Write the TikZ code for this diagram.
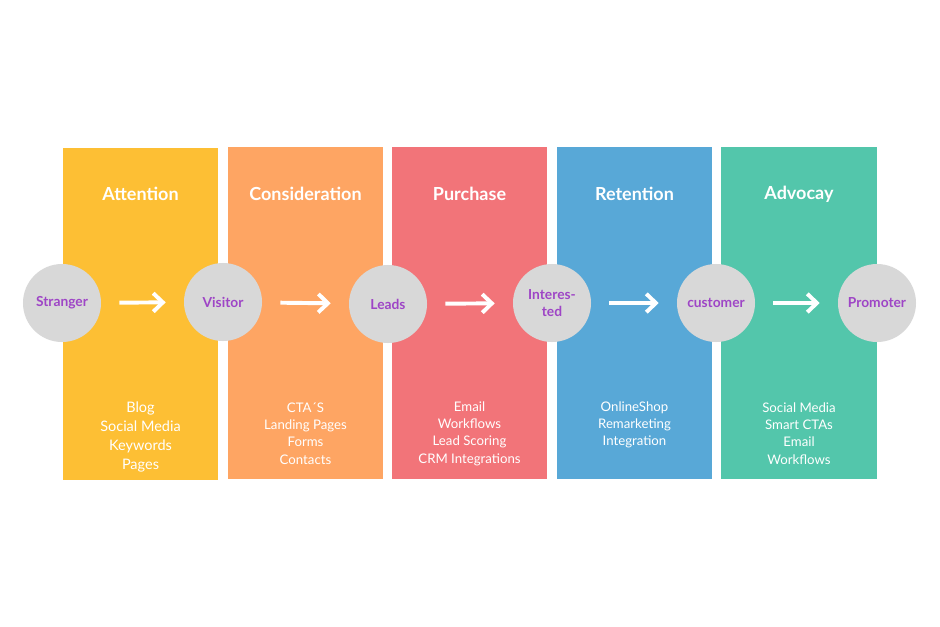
\documentclass[tikz,border=0pt]{standalone}
\usepackage{fontspec}
\setmainfont{Lato}
\usetikzlibrary{arrows.meta}
\definecolor{attcol}{HTML}{FDBF34}
\definecolor{concol}{HTML}{FEA563}
\definecolor{purcol}{HTML}{F27479}
\definecolor{retcol}{HTML}{58A8D7}
\definecolor{advcol}{HTML}{53C6AB}
\definecolor{dotcol}{HTML}{D8D8D8}
\definecolor{txtcol}{HTML}{9E45C6}
\tikzset{
  stage/.style={rectangle,minimum width=3.875cm,minimum height=8.3cm,inner sep=0pt},
  title/.style={text=white,font=\fontsize{12.8}{14}\selectfont\bfseries},
  items/.style={text=white,align=center,font=\fontsize{9.4}{12.3}\selectfont},
  person/.style={circle,fill=dotcol,minimum size=1.95cm,inner sep=0pt,align=center,
    text=txtcol,font=\fontsize{9.8}{11.5}\selectfont\bfseries},
  go/.style={draw=white,line width=2.8pt,-{Straight Barb[length=2.4mm,width=4.6mm]},
    shorten <=0.45cm,shorten >=0.45cm}
}
\begin{document}
\begin{tikzpicture}[x=0.025cm,y=-0.025cm]
\useasboundingbox[fill=white] (0,0) rectangle (940,626);
\node[stage,fill=attcol] (att) at (140.5,314) {};
\node[stage,fill=concol] (con) at (305.5,313) {};
\node[stage,fill=purcol] (pur) at (469.5,313) {};
\node[stage,fill=retcol] (ret) at (634.5,313) {};
\node[stage,fill=advcol] (adv) at (799,313) {};
\node[title] (atttitle) at (140.5,194) {Attention};
\node[title] (contitle) at (305.5,194) {Consideration};
\node[title] (purtitle) at (469.5,194) {Purchase};
\node[title] (rettitle) at (634.5,194) {Retention};
\node[title] (advtitle) at (799,194) {Advocay};
\node[items,font=\fontsize{10.3}{13.5}\selectfont] (attitems) at (140.5,437) {Blog\\Social Media\\Keywords\\Pages};
\node[items] (conitems) at (305.5,433.5) {CTA´S\\Landing Pages\\Forms\\Contacts};
\node[items] (puritems) at (469.5,433.5) {Email\\Workflows\\Lead Scoring\\CRM Integrations};
\node[items] (retitems) at (634.5,425) {OnlineShop\\Remarketing\\Integration};
\node[items] (advitems) at (799,433.5) {Social Media\\Smart CTAs\\Email\\Workflows};
\node[person] (stranger) at (62,303) {Stranger};
\node[person] (visitor) at (223,302) {Visitor};
\node[person] (leads) at (388,304) {Leads};
\node[person] (interested) at (552,303) {Interes-\\ted};
\node[person] (customer) at (716,303) {customer};
\node[person] (promoter) at (877,303) {Promoter};
\draw[go] (stranger) -- (visitor);
\draw[go] (visitor) -- (leads);
\draw[go] (leads) -- (interested);
\draw[go] (interested) -- (customer);
\draw[go] (customer) -- (promoter);
\end{tikzpicture}
\end{document}
